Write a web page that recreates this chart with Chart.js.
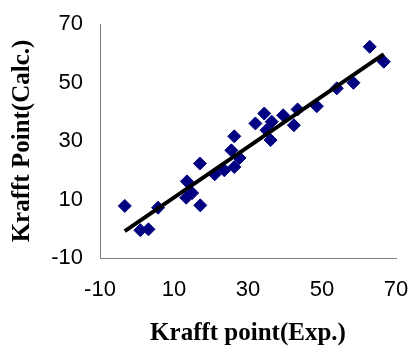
<!DOCTYPE html>
<html>
<head>
<meta charset="utf-8">
<script src="https://cdn.jsdelivr.net/npm/chart.js@4.4.1/dist/chart.umd.min.js"></script>
<style>
  body { margin: 0; background: #fff; }
  #wrap { width: 410px; height: 346px; }
</style>
</head>
<body>
<div id="wrap"><canvas id="chart"></canvas></div>
<script>
// Krafft point, experimental vs calculated
const expValues = [-3.3, 0.9, 3.1, 5.7, 13.5, 13.3, 14.9, 17.0, 17.1, 21.0, 23.6, 26.3, 25.5, 26.3, 27.7,
  32.0, 34.4, 35.0, 36.1, 36.4, 39.5, 42.4, 43.4, 48.6, 54.0, 58.5, 62.9, 66.7];
const calcValues = [7.8, -0.5, -0.2, 7.2, 16.2, 10.6, 12.2, 22.3, 8.0, 18.6, 20.0, 21.1, 26.8, 31.6, 24.2,
  36.0, 39.4, 33.7, 30.3, 36.6, 38.8, 35.4, 40.8, 41.9, 48.0, 49.9, 62.2, 57.1];
const fitX = [-3.3, 66.7];
const fitY = [-0.8, 59.7];
const xTicks = [-10, 10, 30, 50, 70];
const yTicks = [-10, 10, 30, 50, 70];

const points = expValues.map((x, i) => ({ x: x, y: calcValues[i] }));
const fitLine = fitX.map((x, i) => ({ x: x, y: fitY[i] }));

const tickFont = { family: "'Liberation Sans', Arial", size: 22 };
const titleFont = { family: "'Liberation Serif', 'Times New Roman'", size: 25, weight: "bold", lineHeight: 1 };

new Chart(document.getElementById("chart"), {
  type: "scatter",
  data: {
    datasets: [
      {
        label: "data",
        data: points,
        pointStyle: "rectRot",
        pointRadius: 6.5,
        backgroundColor: "#000080",
        borderColor: "#000080",
        borderWidth: 1,
        order: 2,
      },
      {
        label: "fit",
        type: "line",
        data: fitLine,
        borderColor: "#000",
        borderWidth: 4,
        pointRadius: 0,
        fill: false,
        order: 1,
      },
    ],
  },
  options: {
    responsive: true,
    maintainAspectRatio: false,
    animation: false,
    layout: { padding: { top: 24, right: 14, left: 0, bottom: 0 } },
    plugins: { legend: { display: false }, tooltip: { enabled: false } },
    scales: {
      x: {
        type: "linear",
        min: -10,
        max: 70,
        afterBuildTicks: (s) => { s.ticks = xTicks.map((v) => ({ value: v })); },
        afterFit: (s) => { s.height = 88; s.paddingLeft = 0; s.paddingRight = 0; },
        grid: { display: false, drawTicks: true, tickLength: 6, tickColor: "#808080" },
        border: { color: "#808080", width: 1 },
        ticks: { font: tickFont, color: "#000", padding: 13, maxRotation: 0 },
        title: { display: true, text: "Krafft point(Exp.)", font: titleFont, color: "#000", padding: { top: 0, bottom: 0 } },
      },
      y: {
        type: "linear",
        min: -10,
        max: 70,
        afterBuildTicks: (s) => { s.ticks = yTicks.map((v) => ({ value: v })); },
        afterFit: (s) => { s.width = 100; s.paddingTop = 0; s.paddingBottom = 0; },
        grid: { display: false, drawTicks: true, tickLength: 6, tickColor: "#808080" },
        border: { color: "#808080", width: 1 },
        ticks: { font: tickFont, color: "#000", padding: 11 },
        title: { display: true, text: "Krafft Point(Calc.)", font: titleFont, color: "#000", padding: { top: 10, bottom: 10 } },
      },
    },
  },
});
</script>
</body>
</html>
